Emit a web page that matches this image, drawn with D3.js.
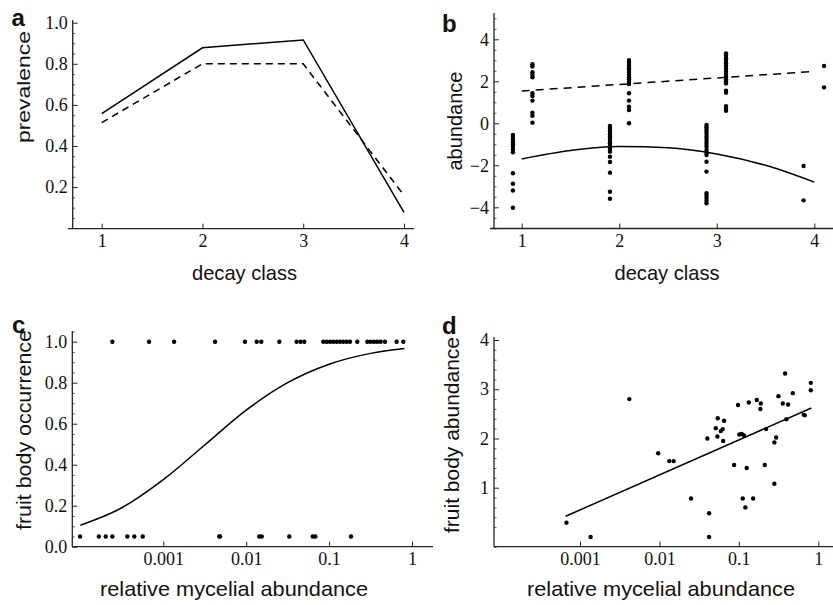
<!DOCTYPE html>
<html><head><meta charset="utf-8">
<script src="https://cdn.jsdelivr.net/npm/d3@7"></script>
<style>
html,body{margin:0;padding:0;background:#fff;}
svg{display:block;}
</style></head>
<body>
<script>
// ---------------- DATA ----------------
// Panel a: prevalence by decay class
const decayClasses = [1, 2, 3, 4];
const prevalenceSolid = [0.558, 0.878, 0.916, 0.077];
const prevalenceDashed = [0.514, 0.80, 0.80, 0.16];

// Panel b: abundance points by column (x position, values)
const bColumnsX = [0.91, 1.11, 1.905, 2.10, 2.895, 3.095, 3.89, 4.10];
const bColumnsY = [
  [-0.55, -0.65, -0.78, -0.9, -1.0, -1.12, -1.25, -1.38, -2.38, -2.88, -3.2, -4.02],
  [2.81, 2.70, 2.43, 2.31, 2.19, 1.43, 1.30, 1.08, 0.50, 0.36, 0.03],
  [-0.13, -0.22, -0.32, -0.41, -0.52, -0.64, -0.73, -0.84, -0.95, -1.08, -1.21, -1.35, -1.59, -1.84, -2.35, -3.26, -3.59],
  [3.01, 2.92, 2.82, 2.73, 2.62, 2.50, 2.41, 2.30, 2.19, 2.10, 1.97, 1.87, 1.43, 1.08, 0.79, 0.63, 0.0],
  [-0.08, -0.19, -0.29, -0.40, -0.51, -0.64, -0.75, -0.88, -0.99, -1.11, -1.27, -1.40, -1.51, -1.83, -2.30, -3.33, -3.45, -3.56, -3.69, -3.81],
  [3.33, 3.22, 3.10, 2.98, 2.86, 2.73, 2.60, 2.46, 2.35, 2.22, 2.10, 2.0, 1.90, 1.55, 1.46, 0.82, 0.71, 0.60],
  [-2.03, -3.67],
  [2.73, 1.71]
];
const bCurveX = [1, 1.5, 2, 2.5, 3, 3.5, 4];
const bCurveY = [-1.70, -1.30, -1.11, -1.16, -1.46, -2.00, -2.80];
const bDashX = [1, 4];
const bDashY = [1.54, 2.47];

// Panel c: fruit body occurrence vs relative mycelial abundance
const cPresentX = [2.43e-4, 6.73e-4, 1.35e-3, 4.21e-3, 9.68e-3, 0.0134, 0.0152, 0.0251, 0.0406, 0.0454, 0.0502,
  0.0851, 0.0935, 0.1026, 0.1125, 0.1236, 0.1355, 0.1483, 0.1629, 0.1786, 0.2188, 0.2891, 0.3177, 0.3483,
  0.3811, 0.4188, 0.4721, 0.6531, 0.7852];
const cAbsentX = [9.9e-5, 1.67e-4, 2.02e-4, 2.43e-4, 3.68e-4, 4.47e-4, 5.65e-4, 4.74e-3, 4.83e-3, 0.0144, 0.0154,
  0.0331, 0.0634, 0.0682, 0.1837];
const cPresentY = 1.0;
const cAbsentY = 0.05;
const cCurveX = [1e-4, 3.16e-4, 1e-3, 3.16e-3, 0.01, 0.0316, 0.1, 0.316, 0.81];
const cCurveY = [0.105, 0.19, 0.327, 0.496, 0.666, 0.80, 0.89, 0.943, 0.967];

// Panel d: fruit body abundance vs relative mycelial abundance
const dX = [6.76e-4, 1.36e-3, 4.18e-3, 9.64e-3, 0.0133, 0.0151, 0.0250, 0.0401, 0.0422, 0.0422, 0.0512, 0.0542,
  0.0537, 0.0592, 0.0627, 0.0652, 0.0634, 0.0871, 0.0977, 0.1014, 0.1086, 0.1161, 0.1119, 0.1208, 0.1256,
  0.1334, 0.1510, 0.1679, 0.1888, 0.1866, 0.2118, 0.2203, 0.2799, 0.2799, 0.2944, 0.3148, 0.3573, 0.3819,
  0.3963, 0.4169, 0.4775, 0.6561, 0.6761, 0.8054, 0.8054];
const dY = [0.29, 0.0, 2.80, 1.70, 1.54, 1.54, 0.78, 2.0, 0.48, 0.0, 2.21, 2.41, 2.04, 2.15, 2.19, 2.36, 1.95,
  1.46, 2.68, 2.08, 2.09, 2.06, 0.78, 0.60, 1.40, 2.73, 0.78, 2.78, 2.71, 2.60, 1.46, 2.19, 1.92, 1.08, 2.02,
  2.86, 2.71, 3.32, 2.39, 2.69, 2.92, 2.48, 2.47, 3.13, 2.98];
const dLineX = [6.6e-4, 0.818];
const dLineY = [0.42, 2.62];

// Tick labels
const decayTicks = [1, 2, 3, 4];
const prevalenceTicks = [0.2, 0.4, 0.6, 0.8, 1.0];
const abundanceTicks = [-4, -2, 0, 2, 4];
const occurrenceTicks = [0.0, 0.2, 0.4, 0.6, 0.8, 1.0];
const logTicks = [0.001, 0.01, 0.1, 1];
const logTickLabels = ["0.001", "0.01", "0.1", "1"];
const fbAbundanceTicks = [1, 2, 3, 4];

// ---------------- DRAWING ----------------
const W = 833, H = 605;
const svg = d3.select("body").append("svg").attr("width", W).attr("height", H);
const TICKFONT = "'Liberation Serif', 'Times New Roman', serif";
const SANS = "'Liberation Sans', Arial, Helvetica, sans-serif";
const INK = "#111";

function drawAxes(o) {
  const g = svg.append("g");
  const xa = d3.axisBottom(o.x).tickValues(o.xTicks).tickSize(-5).tickSizeOuter(0).tickPadding(6)
    .tickFormat(o.xFmt || (d => d));
  const gx = g.append("g").attr("transform", `translate(0,${o.xAxisY})`).call(xa);
  gx.select(".domain").remove();
  const ya = d3.axisLeft(o.y).tickValues(o.yTicks).tickSize(-5).tickSizeOuter(0).tickPadding(5)
    .tickFormat(o.yFmt || (d => d));
  const gy = g.append("g").attr("transform", `translate(${o.yAxisX},0)`).call(ya);
  gy.select(".domain").remove();
  if (o.yMinor) {
    const ym = d3.axisLeft(o.y).tickValues(o.yMinor).tickSize(-2.5).tickFormat("");
    const gm = g.append("g").attr("transform", `translate(${o.yAxisX},0)`).call(ym);
    gm.select(".domain").remove();
    gm.selectAll("line").attr("stroke", "#333").attr("stroke-width", 0.8);
  }
  [gx, gy].forEach(s => {
    s.selectAll("line").attr("stroke", "#222").attr("stroke-width", 1);
    s.selectAll("text").attr("font-family", TICKFONT).attr("font-size", 18).attr("fill", INK);
  });
  g.append("line").attr("x1", o.xLine[0]).attr("x2", o.xLine[1]).attr("y1", o.xAxisY).attr("y2", o.xAxisY)
    .attr("stroke", "#222").attr("stroke-width", 1.3);
  g.append("line").attr("x1", o.yAxisX).attr("x2", o.yAxisX).attr("y1", o.yLine[0]).attr("y2", o.yLine[1])
    .attr("stroke", "#222").attr("stroke-width", 1.3);
  // titles
  g.append("text").attr("x", o.xTitle[0]).attr("y", o.xTitle[1]).attr("text-anchor", "middle")
    .attr("font-family", SANS).attr("font-size", 21).attr("fill", INK)
    .attr("textLength", o.xTitle[2]).attr("lengthAdjust", "spacingAndGlyphs").text(o.xTitleText);
  g.append("text").attr("transform", `translate(${o.yTitle[0]},${o.yTitle[1]}) rotate(-90)`)
    .attr("text-anchor", "middle").attr("font-family", SANS).attr("font-size", o.yTitle[3] || 21).attr("fill", INK)
    .attr("textLength", o.yTitle[2]).attr("lengthAdjust", "spacingAndGlyphs").text(o.yTitleText);
  g.append("text").attr("x", o.letter[0]).attr("y", o.letter[1]).attr("font-family", SANS)
    .attr("font-weight", "bold").attr("font-size", 24).attr("fill", INK).text(o.letterText);
  return g;
}
const fmtMinus = d => d3.format("")(d).replace("-", "\u2212");
const range = (a, b, s) => d3.range(Math.round(a / s), Math.round(b / s) + 1).map(i => +(i * s).toFixed(4));

// ---- Panel a ----
const xa = d3.scaleLinear([1, 4], [101.7, 404]);
const ya = d3.scaleLinear([0, 1], [228.2, 22.7]);
drawAxes({
  x: xa, y: ya, xTicks: decayTicks, yTicks: prevalenceTicks, yFmt: d3.format(".1f"),
  yMinor: range(0.05, 1.0, 0.05).filter(v => Math.abs(v * 5 - Math.round(v * 5)) > 1e-6),
  xAxisY: 228.7, yAxisX: 72.7, xLine: [68, 414], yLine: [228.7, 20],
  xTitle: [244.5, 280, 105], xTitleText: "decay class", yTitle: [29.5, 87, 112, 19], yTitleText: "prevalence",
  letter: [11.5, 26], letterText: "a"
});
const lineA = d3.line().x((d, i) => xa(decayClasses[i])).y(d => ya(d));
svg.append("path").attr("d", lineA(prevalenceSolid)).attr("fill", "none").attr("stroke", "#000").attr("stroke-width", 1.5);
svg.append("path").attr("d", lineA(prevalenceDashed)).attr("fill", "none").attr("stroke", "#000").attr("stroke-width", 1.5)
  .attr("stroke-dasharray", "7,5");

// ---- Panel b ----
const xb = d3.scaleLinear([1, 4], [521.7, 814.3]);
const yb = d3.scaleLinear([-4, 4], [207.3, 39.3]);
drawAxes({
  x: xb, y: yb, xTicks: decayTicks, yTicks: abundanceTicks, yFmt: fmtMinus,
  yMinor: range(-5, 5, 0.5).filter(v => v % 2 !== 0),
  xAxisY: 228.5, yAxisX: 494, xLine: [490, 833], yLine: [228.5, 13],
  xTitle: [667, 280, 105], xTitleText: "decay class", yTitle: [462, 121, 99], yTitleText: "abundance",
  letter: [442, 31.5], letterText: "b"
});
const bPts = bColumnsX.flatMap((cx, i) => bColumnsY[i].map(v => [cx, v]));
svg.append("g").selectAll("circle").data(bPts).join("circle")
  .attr("cx", d => xb(d[0])).attr("cy", d => yb(d[1])).attr("r", 2.2).attr("fill", "#000");
const curveB = d3.line().x((d, i) => xb(bCurveX[i])).y(d => yb(d)).curve(d3.curveMonotoneX);
svg.append("path").attr("d", curveB(bCurveY)).attr("fill", "none").attr("stroke", "#000").attr("stroke-width", 1.5);
const dashB = d3.line().x((d, i) => xb(bDashX[i])).y(d => yb(d));
svg.append("path").attr("d", dashB(bDashY)).attr("fill", "none").attr("stroke", "#000").attr("stroke-width", 1.5)
  .attr("stroke-dasharray", "8,6");

// ---- Panel c ----
const xc = d3.scaleLog([1e-3, 1], [163.3, 412]);
const yc = d3.scaleLinear([0, 1], [546.7, 341.7]);
drawAxes({
  x: xc, y: yc, xTicks: logTicks, xFmt: (d, i) => logTickLabels[i], yTicks: occurrenceTicks, yFmt: d3.format(".1f"),
  yMinor: range(0.05, 1.05, 0.05).filter(v => Math.abs(v * 5 - Math.round(v * 5)) > 1e-6),
  xAxisY: 546.7, yAxisX: 72.3, xLine: [72.3, 433], yLine: [546.7, 331],
  xTitle: [234, 596, 268], xTitleText: "relative mycelial abundance", yTitle: [31, 430, 200], yTitleText: "fruit body occurrence",
  letter: [12, 333], letterText: "c"
});
const cPts = cPresentX.map(x => [x, cPresentY]).concat(cAbsentX.map(x => [x, cAbsentY]));
svg.append("g").selectAll("circle").data(cPts).join("circle")
  .attr("cx", d => xc(d[0])).attr("cy", d => yc(d[1])).attr("r", 2.2).attr("fill", "#000");
const curveC = d3.line().x((d, i) => xc(cCurveX[i])).y(d => yc(d)).curve(d3.curveMonotoneX);
svg.append("path").attr("d", curveC(cCurveY)).attr("fill", "none").attr("stroke", "#000").attr("stroke-width", 1.5);

// ---- Panel d ----
const xd = d3.scaleLog([1e-3, 1], [580, 818.3]);
const yd = d3.scaleLinear([1, 4], [487.7, 340]);
drawAxes({
  x: xd, y: yd, xTicks: logTicks, xFmt: (d, i) => logTickLabels[i], yTicks: fbAbundanceTicks,
  yMinor: range(-0.2, 4, 0.2).filter(v => Math.abs(v - Math.round(v)) > 1e-6),
  xAxisY: 546.7, yAxisX: 494, xLine: [494, 833], yLine: [546.7, 337],
  xTitle: [661, 596, 268], xTitleText: "relative mycelial abundance", yTitle: [459, 435, 196], yTitleText: "fruit body abundance",
  letter: [442, 334], letterText: "d"
});
svg.append("g").selectAll("circle").data(dX.map((x, i) => [x, dY[i]])).join("circle")
  .attr("cx", d => xd(d[0])).attr("cy", d => yd(d[1])).attr("r", 2.2).attr("fill", "#000");
const lineD = d3.line().x((d, i) => xd(dLineX[i])).y(d => yd(d));
svg.append("path").attr("d", lineD(dLineY)).attr("fill", "none").attr("stroke", "#000").attr("stroke-width", 1.5);
</script>
</body></html>
